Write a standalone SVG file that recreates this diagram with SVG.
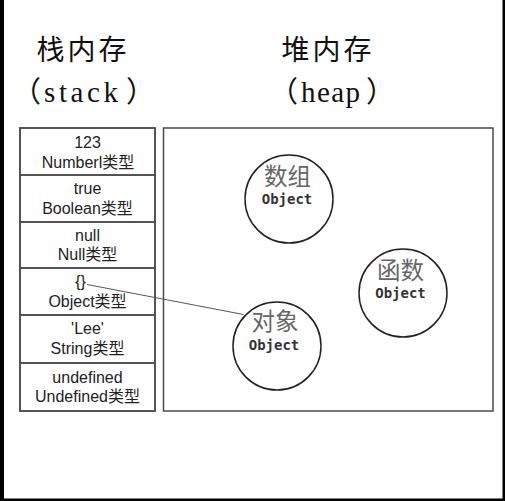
<svg xmlns="http://www.w3.org/2000/svg" width="505" height="501" viewBox="0 0 505 501">
<style>
.frame{fill:#000}
.box{fill:#fff;stroke:#4a4a4a;stroke-width:1.5}
.cell{fill:none;stroke:#4a4a4a;stroke-width:1.5}
.st{font-family:"Liberation Sans","Noto Sans CJK SC",sans-serif;font-size:16px;fill:#222;text-anchor:middle}
.title{font-family:"Noto Sans CJK SC",sans-serif;font-size:28px;fill:#111;letter-spacing:3px}
.paren{font-family:"Liberation Serif","Noto Sans CJK SC",serif;font-size:29px;fill:#111}
.circ{fill:#fff;stroke:#222;stroke-width:1.5}
.cn{font-family:"Noto Sans CJK SC",sans-serif;font-size:23.5px;fill:#666;text-anchor:middle}
.obj{font-family:"DejaVu Sans Mono","Liberation Mono",monospace;font-size:14px;font-weight:bold;fill:#333;text-anchor:middle}
.conn{stroke:#555;stroke-width:1;fill:none}
</style>
<rect x="0" y="0" width="505" height="501" fill="#fff"/>
<g id="frame">
<rect class="frame" x="0" y="0" width="4" height="501"/>
<rect class="frame" x="502.5" y="0" width="2.5" height="501"/>
<rect class="frame" x="0" y="498.5" width="505" height="2.5"/>
</g>
<g id="stack-title">
<text class="title" x="36.5" y="60">栈内存</text>
<text class="paren" x="12" y="102"><tspan>（</tspan><tspan x="44" letter-spacing="3.6">stack</tspan><tspan x="126">）</tspan></text>
</g>
<g id="heap-title">
<text class="title" x="281.5" y="60">堆内存</text>
<text class="paren" x="269" y="102"><tspan>（</tspan><tspan x="301" letter-spacing="1.4">heap</tspan><tspan x="366">）</tspan></text>
</g>
<g id="heap">
<rect class="box" x="163.5" y="128" width="329.5" height="283"/>
</g>
<g id="stack">
<rect class="box" x="20" y="128" width="135" height="283"/>
</g>
<g id="cell-number">
<rect class="cell" x="20" y="128" width="135" height="47"/>
<text class="st" x="87.5" y="148">123</text>
<text class="st" x="88" y="167.5">Numberl类型</text>
</g>
<g id="cell-boolean">
<rect class="cell" x="20" y="175" width="135" height="47"/>
<text class="st" x="87.5" y="194">true</text>
<text class="st" x="87.5" y="214">Boolean类型</text>
</g>
<g id="cell-null">
<rect class="cell" x="20" y="222" width="135" height="46"/>
<text class="st" x="87.5" y="240.5">null</text>
<text class="st" x="87.5" y="260">Null类型</text>
</g>
<g id="cell-object">
<rect class="cell" x="20" y="268" width="135" height="47"/>
<text class="st" x="80.5" y="286.5">{}</text>
<text class="st" x="87.5" y="306.5">Object类型</text>
</g>
<g id="cell-string">
<rect class="cell" x="20" y="315" width="135" height="48"/>
<text class="st" x="87.5" y="334">'Lee'</text>
<text class="st" x="87.5" y="353.5">String类型</text>
</g>
<g id="cell-undefined">
<rect class="cell" x="20" y="363" width="135" height="48"/>
<text class="st" x="87.5" y="383">undefined</text>
<text class="st" x="87.5" y="402">Undefined类型</text>
</g>
<g id="node-array">
<circle class="circ" cx="289" cy="199" r="44"/>
<text class="cn" x="287.5" y="184.5">数组</text>
<text class="obj" x="287" y="203.5">Object</text>
</g>
<g id="node-function">
<circle class="circ" cx="403" cy="293" r="44"/>
<text class="cn" x="400.5" y="278.5">函数</text>
<text class="obj" x="400.5" y="297.5">Object</text>
</g>
<g id="node-object">
<circle class="circ" cx="277" cy="346" r="44"/>
<text class="cn" x="275" y="329.5">对象</text>
<text class="obj" x="274" y="349.5">Object</text>
</g>
<g id="connectors">
<line class="conn" x1="87" y1="284.5" x2="243.5" y2="314.5"/>
</g>
</svg>
